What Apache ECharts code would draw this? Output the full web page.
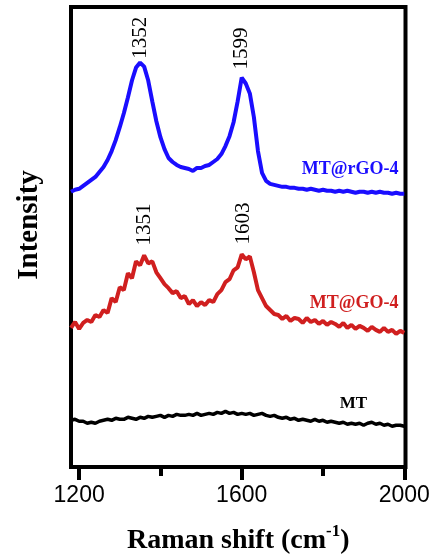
<!DOCTYPE html>
<html>
<head>
<meta charset="utf-8">
<script src="https://cdn.jsdelivr.net/npm/echarts@6.0.0/dist/echarts.min.js"></script>
<style>
  html, body { margin: 0; padding: 0; background: #fff; }
  #chart { width: 438px; height: 560px; }
</style>
</head>
<body>
<div id="chart"></div>
<script>
// Raman shift, cm-1
const wavenumber = [
  1180, 1190, 1200, 1210, 1220, 1230, 1240, 1250, 1260, 1270,
  1280, 1290, 1300, 1310, 1320, 1330, 1340, 1350, 1360, 1370,
  1380, 1390, 1400, 1410, 1420, 1430, 1440, 1450, 1460, 1470,
  1480, 1490, 1500, 1510, 1520, 1530, 1540, 1550, 1560, 1570,
  1580, 1590, 1600, 1610, 1620, 1630, 1640, 1650, 1660, 1670,
  1680, 1690, 1700, 1710, 1720, 1730, 1740, 1750, 1760, 1770,
  1780, 1790, 1800, 1810, 1820, 1830, 1840, 1850, 1860, 1870,
  1880, 1890, 1900, 1910, 1920, 1930, 1940, 1950, 1960, 1970,
  1980, 1990, 2000
];

// intensity (offset, arbitrary units)
const rgoValues = [
  277, 279, 280, 283, 286, 289, 292, 297, 302, 309,
  318, 329, 342, 356, 372, 389, 402, 407, 403, 389,
  368, 348, 332, 320, 311, 307, 304, 302, 301, 300,
  298, 301, 301, 303, 304, 307, 310, 315, 323, 333,
  347, 368, 392, 386, 376, 352, 318, 296, 288, 285,
  284, 283, 282, 282, 281, 281, 280, 280, 279, 280,
  279, 278, 279, 278, 278, 277, 278, 277, 278, 277,
  276, 277, 277, 276, 277, 276, 277, 276, 276, 275,
  276, 275, 275
];

const goValues = [
  140, 146, 139, 145, 148, 146, 153, 151, 158, 155,
  170, 166, 181, 178, 195, 190, 207, 203, 213, 205,
  207, 196, 190, 184, 180, 175, 177, 170, 172, 164,
  168, 162, 166, 163, 168, 166, 174, 178, 186, 189,
  198, 201, 214, 209, 212, 196, 178, 170, 162, 158,
  154, 153, 149, 152, 147, 150, 149, 145, 150, 146,
  148, 144, 147, 143, 146, 144, 141, 145, 140, 143,
  139, 142, 140, 137, 141, 138, 136, 140, 136, 138,
  134, 137, 135
];

const mtValues = [
  47, 48, 46, 46, 44, 45, 44, 46, 47, 48,
  47, 49, 48, 48, 50, 49, 48, 50, 49, 51,
  50, 51, 52, 50, 52, 51, 53, 52, 52, 53,
  52, 54, 52, 53, 54, 53, 55, 54, 56, 54,
  55, 53, 54, 53, 54, 52, 53, 54, 52, 51,
  52, 50, 49, 50, 48, 49, 47, 48, 47, 46,
  48, 46, 47, 45, 46, 45, 44, 45, 43, 44,
  43, 44, 42, 44, 45, 43, 44, 42, 43, 41,
  42, 42, 41
];

const majorTicks = [1200, 1600, 2000];
const minorTicks = [1400, 1800];

const seriesNames = ['MT@rGO-4', 'MT@GO-4', 'MT'];
const seriesColors = ['#1a0dff', '#d01f1f', '#000000'];

// peak labels: text, wavenumber, which series
const peakTexts = ['1352', '1599', '1351', '1603'];
const peakAt = [1350, 1600, 1360, 1605];
const peakSeries = [0, 0, 1, 1];

const serif = '"Liberation Serif", "Times New Roman", serif';
const sans = '"Liberation Sans", Arial, sans-serif';

const chart = echarts.init(document.getElementById('chart'), null, { renderer: 'canvas' });

const toPairs = vals => wavenumber.map((w, i) => [w, vals[i]]);

const baseX = {
  type: 'value',
  min: 1180,
  max: 2003,
  position: 'bottom',
  axisLine: { show: false },
  splitLine: { show: false }
};

chart.setOption({
  animation: false,
  backgroundColor: '#fff',
  grid: {
    left: 71,
    right: 32.5,
    top: 7,
    bottom: 90,
    show: true,
    borderColor: '#000',
    borderWidth: 4
  },
  xAxis: [
    Object.assign({}, baseX, {
      name: '{b|Raman shift (cm}{s|-1}{b|)}',
      nameLocation: 'middle',
      nameGap: 56,
      nameTextStyle: {
        rich: {
          b: { fontFamily: serif, fontWeight: 'bold', fontSize: 28, color: '#000', lineHeight: 32, verticalAlign: 'bottom' },
          s: { fontFamily: serif, fontWeight: 'bold', fontSize: 17, color: '#000', lineHeight: 32, verticalAlign: 'top', padding: [0, 0, 14, 0] }
        }
      },
      axisTick: { show: true, customValues: majorTicks, length: 13, lineStyle: { color: '#000', width: 4 } },
      axisLabel: {
        customValues: majorTicks,
        formatter: v => String(v),
        fontFamily: sans, fontSize: 23, color: '#000', margin: 17
      }
    }),
    Object.assign({}, baseX, {
      axisTick: { show: true, customValues: minorTicks, length: 9, lineStyle: { color: '#000', width: 4 } },
      axisLabel: { show: false }
    })
  ],
  yAxis: {
    type: 'value',
    min: 0,
    max: 463,
    axisLine: { show: false },
    axisTick: { show: false },
    axisLabel: { show: false },
    splitLine: { show: false }
  },
  series: [rgoValues, goValues, mtValues].map((vals, i) => ({
    name: seriesNames[i],
    type: 'line',
    data: toPairs(vals),
    showSymbol: false,
    symbol: 'none',
    lineStyle: { color: seriesColors[i], width: i === 2 ? 3.5 : 4 },
    z: 3 - i
  }))
});

// text annotations anchored through the chart's own scales
const allSeries = [rgoValues, goValues, mtValues];
const graphics = [];

const nearestIndex = w => {
  let best = 0;
  wavenumber.forEach((x, i) => {
    if (Math.abs(x - w) < Math.abs(wavenumber[best] - w)) best = i;
  });
  return best;
};

const peakGap = [4, 8, 10, 10];
peakTexts.forEach((t, i) => {
  const v = allSeries[peakSeries[i]][nearestIndex(peakAt[i])];
  const p = chart.convertToPixel({ gridIndex: 0 }, [peakAt[i], v]);
  graphics.push({
    type: 'text',
    x: p[0],
    y: p[1] - peakGap[i],
    rotation: Math.PI / 2,
    style: { text: t, fontFamily: serif, fontSize: 21, fill: '#000', align: 'left', verticalAlign: 'middle' }
  });
});

// series name labels, right of the traces
const nameAnchor = [[1986, 300], [1986, 165], [1875, 64]];
const nameSize = [18, 18, 17];
seriesNames.forEach((n, i) => {
  const p = chart.convertToPixel({ gridIndex: 0 }, nameAnchor[i]);
  graphics.push({
    type: 'text',
    x: p[0],
    y: p[1],
    style: {
      text: n, fontFamily: serif, fontWeight: 'bold', fontSize: nameSize[i],
      fill: seriesColors[i], align: i === 2 ? 'center' : 'right', verticalAlign: 'middle'
    }
  });
});

graphics.push({
  type: 'text',
  x: 30,
  y: 225,
  rotation: Math.PI / 2,
  style: { text: 'Intensity', fontFamily: serif, fontWeight: 'bold', fontSize: 29, fill: '#000', align: 'center', verticalAlign: 'middle' }
});

chart.setOption({ graphic: graphics });
</script>
</body>
</html>
